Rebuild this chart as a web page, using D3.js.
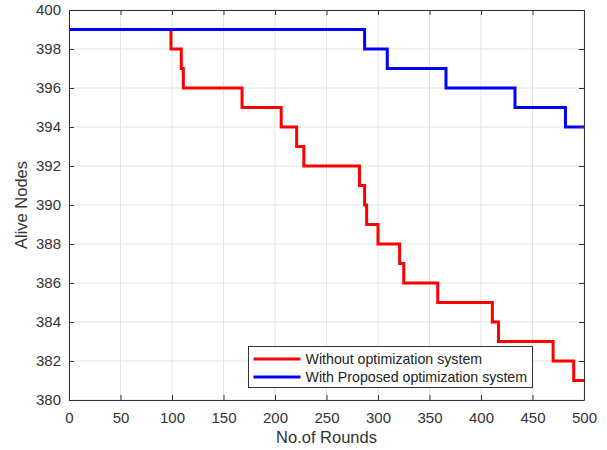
<!DOCTYPE html>
<meta charset="utf-8">
<head>
<script src="https://d3js.org/d3.v7.min.js"></script>
<style>
  body { margin: 0; background: #fff; font-family: "Liberation Sans", Arial, Helvetica, sans-serif; }
  .tick text { fill: #333; font-size: 15px; }
</style>
</head>
<body>
<svg></svg>
<script>
// rounds where the alive count changes, and the count from that round on
var redRounds  = [0, 99, 109, 111, 168, 206, 221, 228, 282, 287, 289, 300, 321, 325, 358, 411, 417, 470, 490, 500];
var redValues  = [399, 398, 397, 396, 395, 394, 393, 392, 391, 390, 389, 388, 387, 386, 385, 384, 383, 382, 381, 381];
var blueRounds = [0, 287, 309, 366, 433, 482, 500];
var blueValues = [399, 398, 397, 396, 395, 394, 394];
var xTicks = [0, 50, 100, 150, 200, 250, 300, 350, 400, 450, 500];
var yTicks = [380, 382, 384, 386, 388, 390, 392, 394, 396, 398, 400];
var seriesNames = ["Without optimization system", "With Proposed optimization system"];

var width = 607, height = 450;
var margin = {left: 69, right: 23, top: 10, bottom: 50};

var svg = d3.select("svg").attr("width", width).attr("height", height);

var x = d3.scaleLinear().domain([0, 500]).range([margin.left, width - margin.right]);
var y = d3.scaleLinear().domain([380, 400]).range([height - margin.bottom, margin.top]);

var axisCol = "#333";

// grid
var grid = svg.append("g");
grid.selectAll(".gx").data(xTicks).enter().append("line")
  .attr("x1", function(d) { return x(d); }).attr("x2", function(d) { return x(d); })
  .attr("y1", y(380)).attr("y2", y(400))
  .style("stroke", "#e3e3e3").style("stroke-width", 1);
grid.selectAll(".gy").data(yTicks).enter().append("line")
  .attr("y1", function(d) { return y(d); }).attr("y2", function(d) { return y(d); })
  .attr("x1", x(0)).attr("x2", x(500))
  .style("stroke", "#e3e3e3").style("stroke-width", 1);

// lines
var line = d3.line()
  .x(function(d) { return x(d[0]); })
  .y(function(d) { return y(d[1]); })
  .curve(d3.curveStepAfter);

var plot = svg.append("g");
plot.append("path")
  .datum(d3.zip(redRounds, redValues))
  .attr("d", line)
  .style("fill", "none").style("stroke", "#ff0000").style("stroke-width", 3);
plot.append("path")
  .datum(d3.zip(blueRounds, blueValues))
  .attr("d", line)
  .style("fill", "none").style("stroke", "#0000ff").style("stroke-width", 3);

// axes (ticks inward, box)
var xAxis = svg.append("g")
  .attr("transform", "translate(0," + y(380) + ")")
  .call(d3.axisBottom(x).tickValues(xTicks).tickSizeInner(-5).tickSizeOuter(0).tickPadding(12));
var yAxis = svg.append("g")
  .attr("transform", "translate(" + x(0) + ",0)")
  .call(d3.axisLeft(y).tickValues(yTicks).tickSizeInner(-5).tickSizeOuter(0).tickPadding(8));
var xTop = svg.append("g")
  .attr("transform", "translate(0," + y(400) + ")")
  .call(d3.axisTop(x).tickValues(xTicks).tickSizeInner(-5).tickSizeOuter(0).tickFormat(""));
var yRight = svg.append("g")
  .attr("transform", "translate(" + x(500) + ",0)")
  .call(d3.axisRight(y).tickValues(yTicks).tickSizeInner(-5).tickSizeOuter(0).tickFormat(""));

[xAxis, yAxis, xTop, yRight].forEach(function(a) {
  a.select(".domain").style("stroke", axisCol);
  a.selectAll(".tick line").style("stroke", axisCol);
  a.selectAll(".tick text").style("font-family", "'Liberation Sans', Arial, sans-serif");
});

// axis labels
svg.append("text")
  .attr("x", (x(0) + x(500)) / 2).attr("y", 443)
  .attr("text-anchor", "middle")
  .style("font-size", "16.5px").style("fill", "#333")
  .text("No.of Rounds");
svg.append("text")
  .attr("transform", "translate(27," + (y(390)) + ")rotate(-90)")
  .attr("text-anchor", "middle")
  .style("font-size", "16.5px").style("fill", "#333")
  .text("Alive Nodes");

// legend
var legend = svg.append("g").attr("transform", "translate(248.5,346.5)");
legend.append("rect")
  .attr("width", 284).attr("height", 41)
  .style("fill", "#fff").style("stroke", "#333").style("stroke-width", 1);
var legendColors = ["#ff0000", "#0000ff"];
var item = legend.selectAll(".item").data(seriesNames).enter().append("g")
  .attr("transform", function(d, i) { return "translate(0," + (12.5 + i * 18) + ")"; });
item.append("line")
  .attr("x1", 5).attr("x2", 52)
  .style("stroke", function(d, i) { return legendColors[i]; })
  .style("stroke-width", 3);
item.append("text")
  .attr("x", 57).attr("dy", "0.35em")
  .style("font-size", "14.2px").style("fill", "#222")
  .text(function(d) { return d; });
</script>
</body>
</html>
